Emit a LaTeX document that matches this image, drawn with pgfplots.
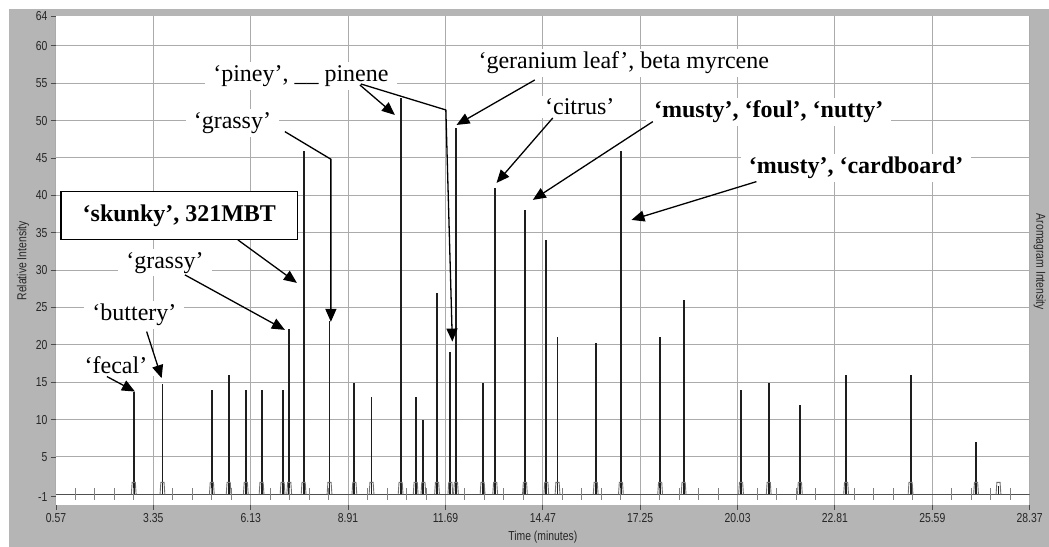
\documentclass[border=0pt]{standalone}
\usepackage{pgfplots}
\usepackage{pgfplotstable}
\pgfplotsset{compat=1.18}
\usepackage{fontspec}
\setmainfont{Liberation Serif}
\newfontfamily\tickfont[FakeStretch=0.8]{Liberation Sans}
\usetikzlibrary{arrows.meta}
\definecolor{framegray}{HTML}{B5B5B5}
\definecolor{gridgray}{HTML}{ABABAB}
\definecolor{peakc}{HTML}{1E1E1E}
\definecolor{basec}{HTML}{505050}
\pgfdeclareplotmark{bump}{%
  \pgfpathmoveto{\pgfpoint{-2.4bp}{0bp}}%
  \pgfpathlineto{\pgfpoint{-1.6bp}{12bp}}%
  \pgfpathlineto{\pgfpoint{1.6bp}{12bp}}%
  \pgfpathlineto{\pgfpoint{2.4bp}{0bp}}%
  \pgfusepathqstroke}
\pgfplotstableread{
t h
2.79 13.7
3.61 14.8
5.02 14
5.50 16
5.99 14
6.44 14
7.04 14
7.23 22.1
7.64 46
8.38 23.2
9.09 14.9
9.58 13
10.41 53
10.84 13
11.06 10
11.45 27
11.83 19.1
11.99 49
12.75 14.9
13.11 41
13.96 38
14.57 34
14.89 21
15.98 20.2
16.70 46
17.82 21
18.49 26
20.13 14
20.92 14.9
21.81 12
23.13 16
24.97 16
26.84 7
27.48 1.1
}\peaks
\newcommand\annf{\fontsize{24bp}{28bp}\selectfont}
\newcommand\tickf{\tickfont\fontsize{13bp}{15bp}\selectfont}
\tikzset{ann/.style={draw=black, line width=1.3bp, -{Triangle[length=13bp,width=11bp]}},
  lab/.style={fill=white, inner xsep=8bp, inner ysep=3bp, font=\annf, text=black}}
\begin{document}
\begin{tikzpicture}[x=1bp,y=1bp]
\fill[white] (0,0) rectangle (1049,547);
\fill[framegray] (9,0) rectangle (1049,538);
\begin{axis}[
  at={(56bp,42bp)}, anchor=south west,
  width=974bp, height=489bp, scale only axis,
  xmin=0.57, xmax=28.37, ymin=-1.4, ymax=64,
  axis background/.style={fill=white},
  axis line style={draw=none},
  xtick={0.57,3.35,6.13,8.91,11.69,14.47,17.25,20.03,22.81,25.59,28.37},
  xticklabels={0.57,3.35,6.13,8.91,11.69,14.47,17.25,20.03,22.81,25.59,28.37},
  ytick={5,10,15,20,25,30,35,40,45,50,55,60},
  yticklabels={5,10,15,20,25,30,35,40,45,50,55,60},
  extra y ticks={-0.3,64},
  extra y tick labels={-1,64},
  extra y tick style={grid=none},
  grid=major,
  grid style={gridgray, line width=1bp},
  tick align=outside,
  xtick pos=bottom, ytick pos=left,
  major tick length=5bp,
  tick style={black!70, line width=0.9bp},
  ticklabel style={font=\tickf, text=black!85},
  /pgf/number format/assume math mode=true,
]
\addplot[basec, line width=1.4bp, mark=none] coordinates {(0.57,0) (28.37,0)};
\addplot[only marks, mark=|, mark size=6bp, mark options={draw=gray, line width=0.9bp}] coordinates {
(1.126,0) (1.682,0) (2.238,0) (2.794,0)
(3.906,0) (4.462,0) (5.018,0) (5.574,0)
(6.686,0) (7.242,0) (7.798,0) (8.354,0)
(9.466,0) (10.022,0) (10.578,0) (11.134,0)
(12.246,0) (12.802,0) (13.358,0) (13.914,0)
(15.026,0) (15.582,0) (16.138,0) (16.694,0)
(17.806,0) (18.362,0) (18.918,0) (19.474,0)
(20.586,0) (21.142,0) (21.698,0) (22.254,0)
(23.366,0) (23.922,0) (24.478,0) (25.034,0)
(26.146,0) (26.702,0) (27.258,0) (27.814,0)};
\addplot[only marks, mark=bump, mark options={draw=gray!90!black, line width=0.9bp}] table[x=t, y expr=0]{\peaks};
\addplot[ycomb, peakc, line width=1.9bp, mark=none] table[x=t, y=h]{\peaks};
\end{axis}
% axis titles
\node[font=\tickf, text=black!85] at (543,10) {Time (minutes)};
\node[font=\tickf, text=black!85, rotate=90] at (23,286) {Relative Intensity};
\node[font=\tickf, text=black!85, rotate=-90] at (1040,285) {Aromagram Intensity};
% annotations
\node[lab] at (116,182) {‘fecal’};
\draw[ann] (107,170.3) -- (135,155.3);
\node[lab] at (134.5,232) {‘buttery’};
\draw[ann] (146.7,215.3) -- (161.7,168.7);
\node[lab] at (165,284) {‘grassy’};
\draw[ann] (185,272) -- (285,217);
\draw[ann] (238,307) -- (297,264);
\draw[fill=white, line width=1.4bp] (61,307.7) rectangle (297.7,355.3);
\node[font=\annf\bfseries] at (179.4,331.5) {‘skunky’, 321MBT};
\node[lab] at (232.5,424) {‘grassy’};
\draw[ann] (285,415.3) -- (331,387.7) -- (331,225);
\node[lab] at (301,471) {‘piney’, \_\_ pinene};
\draw[ann] (360,462) -- (395,432);
\draw[ann] (361,463) -- (446,437) -- (452.5,205.3);
\node[lab] at (624,484) {‘geranium leaf’, beta myrcene};
\draw[ann] (535,467) -- (456.7,422);
\node[lab] at (580,440) {‘citrus’};
\draw[ann] (553,429) -- (496.7,364);
\node[lab, font=\annf\bfseries] at (769,435) {‘musty’, ‘foul’, ‘nutty’};
\draw[ann] (653,425.3) -- (533,347);
\node[lab, font=\annf\bfseries] at (856.5,379) {‘musty’, ‘cardboard’};
\draw[ann] (756.7,365.3) -- (631.7,327);
\end{tikzpicture}
\end{document}
